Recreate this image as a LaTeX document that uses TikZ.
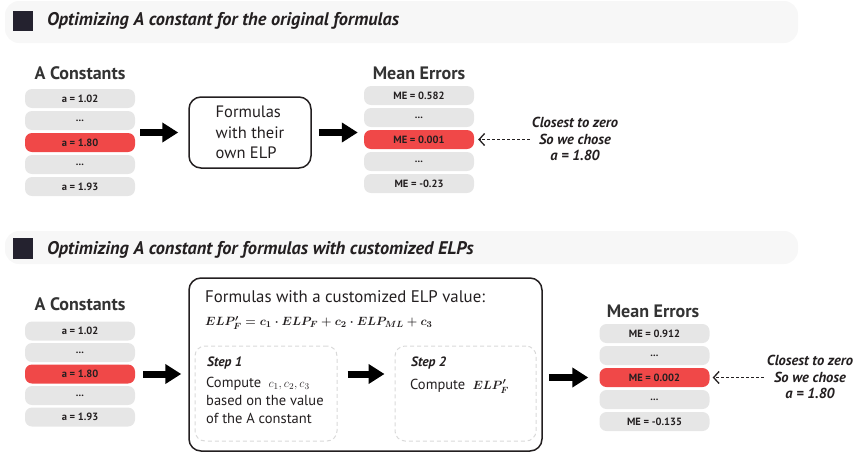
\documentclass[tikz,border=0pt]{standalone}
\usepackage{amsmath}
\usepackage{fontspec}
\setmainfont{PT Sans}
\usetikzlibrary{arrows.meta}

\definecolor{hdrbg}{HTML}{F7F7F7}
\definecolor{hdrsq}{HTML}{24222F}
\definecolor{rowgray}{HTML}{E6E6E6}
\definecolor{rowred}{HTML}{F04848}
\definecolor{ink}{HTML}{231F20}
\definecolor{titleink}{HTML}{333333}
\definecolor{dashgray}{HTML}{D9D9D9}

\tikzset{
  hdrbar/.style={fill=hdrbg, rounded corners=14pt},
  hdrsquare/.style={fill=hdrsq},
  hdrtext/.style={anchor=west, inner sep=0pt, text=ink,
    font=\bfseries\itshape\fontsize{18.3}{22}\selectfont},
  coltitle/.style={inner sep=0pt, text=titleink,
    font=\bfseries\fontsize{18}{21}\selectfont},
  row/.style={fill=rowgray, rounded corners=7pt, minimum width=110pt,
    minimum height=19pt, inner sep=0pt, text=ink,
    font=\bfseries\fontsize{10.5}{12}\selectfont},
  redrow/.style={row, fill=rowred},
  formbox/.style={draw=ink, line width=1.5pt, rounded corners=12pt, inner sep=0pt},
  stepbox/.style={draw=dashgray, line width=1pt, dash pattern=on 4pt off 3pt,
    rounded corners=10pt, inner sep=0pt},
  bodytext/.style={inner sep=0pt, text=ink, font=\fontsize{16.5}{20.5}\selectfont},
  steptext/.style={inner sep=0pt, text=ink, anchor=west, font=\fontsize{14.5}{18}\selectfont},
  steptitle/.style={inner sep=0pt, text=ink, anchor=west, font=\bfseries\itshape\fontsize{13.5}{16}\selectfont},
  note/.style={align=center, inner sep=0pt, text=ink,
    font=\bfseries\itshape\fontsize{14.5}{16.5}\selectfont},
  blockarrow/.style={line width=7pt, -{Triangle[length=16pt,width=19pt]}, draw=black},
  pointer/.style={line width=1.2pt, dash pattern=on 2.5pt off 2.5pt, draw=ink,
    -{Straight Barb[length=5.5pt,width=12pt,line width=1.3pt]}},
}

\begin{document}
\begin{tikzpicture}[x=1pt, y=-1pt]
\useasboundingbox (0,0) rectangle (856,453);

% ---------- first section: original formulas ----------
\fill[hdrbar] (5,1) rectangle (798,43);
\fill[hdrsquare] (13,11) rectangle (33,31);
\node[hdrtext] (h1) at (47,21) {Optimizing A constant for the original formulas};

\node[coltitle] (t1) at (80,73) {A Constants};
\node[row]    (a1r1) at (80,98.5)  {a = 1.02};
\node[row]    (a1r2) at (80,120.5) {...};
\node[redrow] (a1r3) at (80,142.5) {a = 1.80};
\node[row]    (a1r4) at (80,164.5) {...};
\node[row]    (a1r5) at (80,186.5) {a = 1.93};

\node[formbox, minimum width=122pt, minimum height=71pt] (f1) at (250,132.5) {};
\node[bodytext, align=left] (f1t) at (f1.center) {Formulas\\with their\\own ELP};

\node[coltitle] (t2) at (419,73) {Mean Errors};
\node[row]    (m1r1) at (419,95.5)  {ME = 0.582};
\node[row]    (m1r2) at (419,117.5) {...};
\node[redrow] (m1r3) at (419,139.5) {ME = 0.001};
\node[row]    (m1r4) at (419,161.5) {...};
\node[row]    (m1r5) at (419,183.5) {ME = -0.23};

\node[note] (n1) at (575,139) {Closest to zero\\So we chose\\a = 1.80};

\draw[blockarrow, shorten <=5pt, shorten >=10pt] (a1r3.east |- f1.west) -- (f1.west);
\draw[blockarrow, shorten <=7pt, shorten >=6pt] (f1.east) -- (m1r3.west |- f1.east);
\draw[pointer, shorten <=2pt, shorten >=4pt] (n1.west |- m1r3.east) -- (m1r3.east);

% ---------- second section: customized ELPs ----------
\fill[hdrbar] (5,231) rectangle (798,264);
\fill[hdrsquare] (13,238) rectangle (33,259);
\node[hdrtext] (h2) at (47,249.5) {Optimizing A constant for formulas with customized ELPs};

\node[coltitle] (t3) at (80,304) {A Constants};
\node[row]    (a2r1) at (80,331) {a = 1.02};
\node[row]    (a2r2) at (80,352.5) {...};
\node[redrow] (a2r3) at (80,374) {a = 1.80};
\node[row]    (a2r4) at (80,395.5) {...};
\node[row]    (a2r5) at (80,417) {a = 1.93};

\node[formbox, minimum width=353pt, minimum height=173pt] (big) at (365.5,364.5) {};
\node[bodytext, anchor=west, font=\fontsize{16.8}{20}\selectfont] (bigt) at (205,297)
  {Formulas with a customized ELP value:};
\node[inner sep=0pt, anchor=west, text=ink, font=\fontsize{13}{15}\selectfont] (eq) at (205,323)
  {$\boldsymbol{ELP'_F = c_1\cdot ELP_F + c_2\cdot ELP_{ML} + c_3}$};

\node[stepbox, minimum width=142pt, minimum height=95pt] (s1) at (266,393.5) {};
\node[steptitle] (s1t) at (207,363) {Step 1};
\node[steptext, align=left, anchor=north west] (s1b) at (206,377)
  {Compute\enspace{\fontsize{13}{14}\selectfont$c_1,c_2,c_3$}\\based on the value\\of the A constant};

\node[stepbox, minimum width=141pt, minimum height=95pt] (s2) at (465.5,393.5) {};
\node[steptitle] (s2t) at (411,363) {Step 2};
\node[steptext] (s2b) at (410,386)
  {Compute\enspace{\fontsize{13}{15}\selectfont$\boldsymbol{ELP'_F}$}};

\node[coltitle] (t4) at (653,311) {Mean Errors};
\node[row]    (m2r1) at (654.5,333.5) {ME = 0.912};
\node[row]    (m2r2) at (654.5,355.5) {...};
\node[redrow] (m2r3) at (654.5,377.5) {ME = 0.002};
\node[row]    (m2r4) at (654.5,399.5) {...};
\node[row]    (m2r5) at (654.5,421.5) {ME = -0.135};

\node[note] (n2) at (810,377) {Closest to zero\\So we chose\\a = 1.80};

\draw[blockarrow, shorten <=8pt, shorten >=7pt] (a2r3.east) -- (big.west |- a2r3.east);
\draw[blockarrow, shorten <=10pt, shorten >=10pt] ([yshift=19.5pt]s1.east) -- ([yshift=19.5pt]s2.west);
\draw[blockarrow, shorten <=6pt, shorten >=11pt] (big.east |- m2r3.west) -- (m2r3.west);
\draw[pointer, shorten <=3pt, shorten >=3pt] (n2.west |- m2r3.east) -- (m2r3.east);
\end{tikzpicture}
\end{document}
